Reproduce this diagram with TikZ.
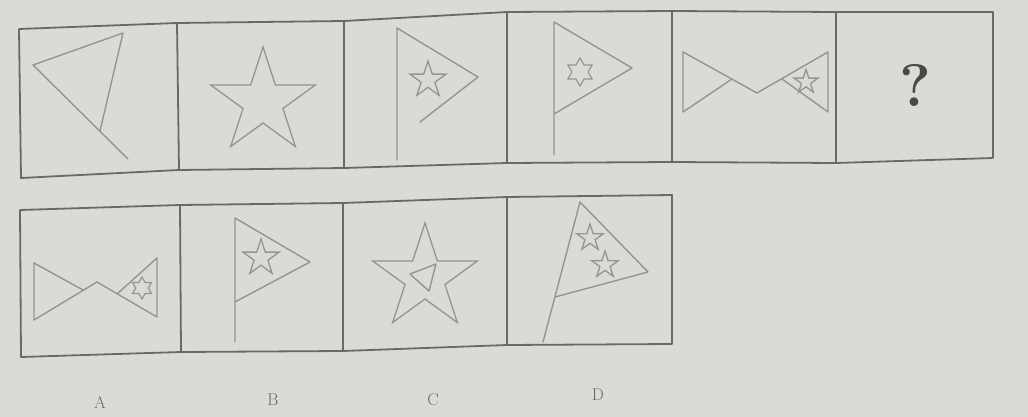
\documentclass[tikz,border=0pt]{standalone}
\usetikzlibrary{shapes.geometric}
\definecolor{paper}{RGB}{218,219,213}
\definecolor{frameline}{RGB}{105,105,103}
\definecolor{figline}{RGB}{148,148,145}
\definecolor{qmark}{RGB}{72,72,70}
\begin{document}
\begin{tikzpicture}[x=1pt,y=-1pt,
  frame/.style={draw=frameline,line width=1.8pt,line join=round},
  fig/.style={draw=figline,line width=1.4pt,line join=round,line cap=round},
  starfive/.style={star,star points=5,star point ratio=2.618,inner sep=0pt,draw=figline,line width=1.3pt},
  starsix/.style={star,star points=6,star point ratio=1.732,inner sep=0pt,draw=figline,line width=1.2pt},
  lab/.style={font=\fontsize{17}{17}\selectfont,text=frameline}]
\fill[paper] (0,0) rectangle (1028,417);
\useasboundingbox (0,0) rectangle (1028,417);
% ---- top row frame
\draw[frame] (19,29) -- (177,23) -- (344,21) -- (507,12) -- (672,11) -- (836,12) -- (993,12)
  -- (993,158) -- (836,163) -- (672,162) -- (507,163) -- (344,168) -- (179,170) -- (21,178) -- cycle;
\draw[frame] (177,23) -- (179,170);
\draw[frame] (344,21) -- (344,168);
\draw[frame] (507,12) -- (507,163);
\draw[frame] (672,11) -- (672,162);
\draw[frame] (836,12) -- (836,163);
% ---- bottom row frame
\draw[frame] (20,210) -- (180,205) -- (343,203) -- (507,197) -- (672,195)
  -- (672,344) -- (507,345) -- (343,351) -- (181,352) -- (21,357) -- cycle;
\draw[frame] (180,205) -- (181,352);
\draw[frame] (343,203) -- (343,351);
\draw[frame] (507,197) -- (507,345);
% ---- panel 1
\draw[fig] (128,159) -- (33,65) -- (123,33) -- (100,131);
% ---- panel 2
\node[starfive,minimum size=110pt] (s2) at (263,102) {};
% ---- panel 3
\draw[fig] (397,160) -- (397,28) -- (478,77) -- (420,122);
\node[starfive,minimum size=38pt] (s3) at (428,80) {};
% ---- panel 4
\draw[fig] (554,155) -- (554,22) -- (632,68) -- (554,114);
\node[starsix,minimum size=28pt] (h4) at (580,72) {};
% ---- panel 5
\draw[fig] (683,52) -- (757,93) -- (828,52) -- (828,112) -- (782,79);
\draw[fig] (683,52) -- (683,112) -- (732,79);
\node[starfive,minimum size=25pt] (s5) at (806,82) {};
% ---- option A
\draw[fig] (34,263) -- (34,320) -- (97,282) -- (157,317) -- (157,258) -- (117,294);
\draw[fig] (34,263) -- (83,290);
\node[starsix,minimum size=22pt] (hA) at (142,288) {};
% ---- option B
\draw[fig] (235,342) -- (235,218) -- (310,262) -- (235,302);
\node[starfive,minimum size=38pt] (sB) at (261,258) {};
% ---- option C
\node[starfive,minimum size=110pt] (sC) at (425,278) {};
\draw[fig] (410,274) -- (436,264) -- (429,291) -- cycle;
% ---- option D
\draw[fig] (543,342) -- (580,202) -- (648,272) -- (555,297);
\node[starfive,minimum size=28pt] (sD1) at (590,238) {};
\node[starfive,minimum size=28pt] (sD2) at (605,265) {};
% ---- question mark
\node[font=\fontsize{60}{60}\selectfont\bfseries,text=qmark] (q) at (915,86) {?};
% ---- labels
\node[lab] (la) at (100,402) {A};
\node[lab] (lb) at (273,400) {B};
\node[lab] (lc) at (433,400) {C};
\node[lab] (ld) at (598,395) {D};
\end{tikzpicture}
\end{document}
